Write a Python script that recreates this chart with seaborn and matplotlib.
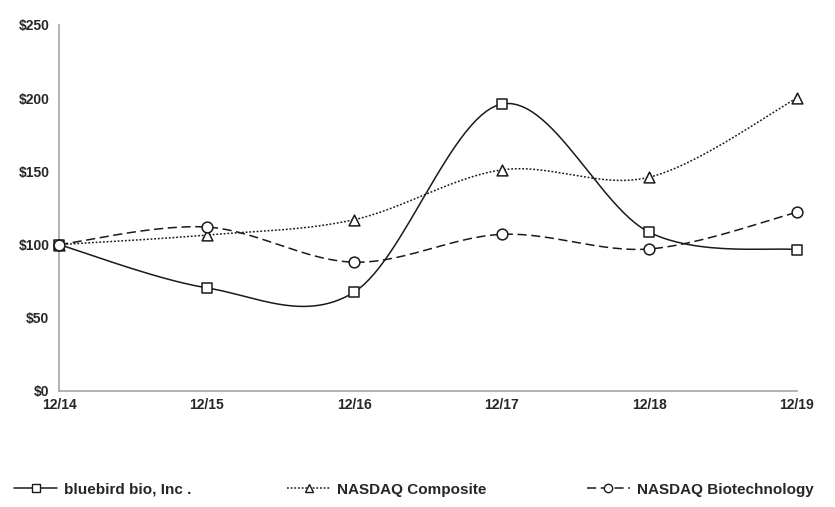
import numpy as np
import pandas as pd
import matplotlib
matplotlib.use("Agg")
import matplotlib.pyplot as plt
import seaborn as sns
from matplotlib.lines import Line2D

# data
periods = ["12/14", "12/15", "12/16", "12/17", "12/18", "12/19"]
bluebird = [100, 70.5, 67.5, 196, 108.5, 96.5]
nasdaq_comp = [100, 106.5, 117, 151, 146, 200]
nasdaq_biotech = [100, 112, 88, 107, 97, 122]

series_names = ["bluebird bio, Inc .", "NASDAQ Composite", "NASDAQ Biotechnology"]
series_values = [bluebird, nasdaq_comp, nasdaq_biotech]
markers = ["s", "^", "o"]
dashes = ["-", (0, (1.2, 1.2)), (0, (6, 3))]

sns.set_style("white")
plt.rcParams['font.family'] = ['Liberation Sans', 'DejaVu Sans']


def smooth(x, y, n=30):
    # Excel style smoothing (bezier with catmull-rom control points)
    x = np.asarray(x, float)
    y = np.asarray(y, float)
    px = np.concatenate([[x[0]], x, [x[-1]]])
    py = np.concatenate([[y[0]], y, [y[-1]]])
    xs, ys = [], []
    t = np.linspace(0, 1, n)
    for i in range(1, len(px) - 2):
        p0 = np.array([px[i], py[i]])
        p3 = np.array([px[i + 1], py[i + 1]])
        c1 = p0 + (np.array([px[i + 1], py[i + 1]]) - np.array([px[i - 1], py[i - 1]])) / 6
        c2 = p3 - (np.array([px[i + 2], py[i + 2]]) - np.array([px[i], py[i]])) / 6
        b = ((1 - t) ** 3)[:, None] * p0 + (3 * (1 - t) ** 2 * t)[:, None] * c1 \
            + (3 * (1 - t) * t ** 2)[:, None] * c2 + (t ** 3)[:, None] * p3
        xs.extend(b[:, 0])
        ys.extend(b[:, 1])
    return np.array(xs), np.array(ys)


fig = plt.figure(figsize=(8.35, 5.07), dpi=100)
ax = fig.add_axes([0.0707, 0.2288, 0.8833, 0.7219])

xpos = np.arange(len(periods))
handles = []
for name, vals, mk, ls in zip(series_names, series_values, markers, dashes):
    sx, sy = smooth(xpos, vals)
    ax.plot(sx, sy, color="#1a1a1a", lw=1.1, linestyle=ls, zorder=2, clip_on=False)
    df = pd.DataFrame({"x": xpos, "y": vals})
    sns.scatterplot(data=df, x="x", y="y", marker=mk, s=60, facecolor="white",
                    edgecolor="#1a1a1a", linewidth=1.1, ax=ax, zorder=3)
    ax.collections[-1].set_clip_on(False)
    handles.append(Line2D([], [], color="#1a1a1a", lw=1.1, linestyle=ls, marker=mk,
                          markersize=6, markerfacecolor="white",
                          markeredgecolor="#1a1a1a", markeredgewidth=1.0))

ax.set_xlim(0, len(periods) - 1)
ax.set_ylim(0, 250)
ax.set_xticks(xpos)
ax.set_xticklabels(periods, fontsize=10, fontweight="bold")
ax.set_yticks(np.arange(0, 251, 50))
ax.set_yticklabels(["${}".format(v) for v in range(0, 251, 50)], fontsize=10, fontweight="bold")
ax.set_xlabel("")
ax.set_ylabel("")
for s in ["top", "right"]:
    ax.spines[s].set_visible(False)
for s in ["left", "bottom"]:
    ax.spines[s].set_color("#a6a6a6")
    ax.spines[s].set_linewidth(1.2)
ax.tick_params(axis="x", direction="in", length=4, color="#a6a6a6", pad=5)
ax.tick_params(axis="y", length=0, pad=7)

# legend entries spread across the bottom
legend_x = [0.017, 0.344, 0.703]
for h, name, lx in zip(handles, series_names, legend_x):
    lg = fig.legend([h], [name], loc="center left", bbox_to_anchor=(lx, 0.034),
                    frameon=False, handlelength=2.8, handletextpad=0.45,
                    borderpad=0, borderaxespad=0,
                    prop={"weight": "bold", "size": 11})

fig.savefig("out.png", dpi=100)
